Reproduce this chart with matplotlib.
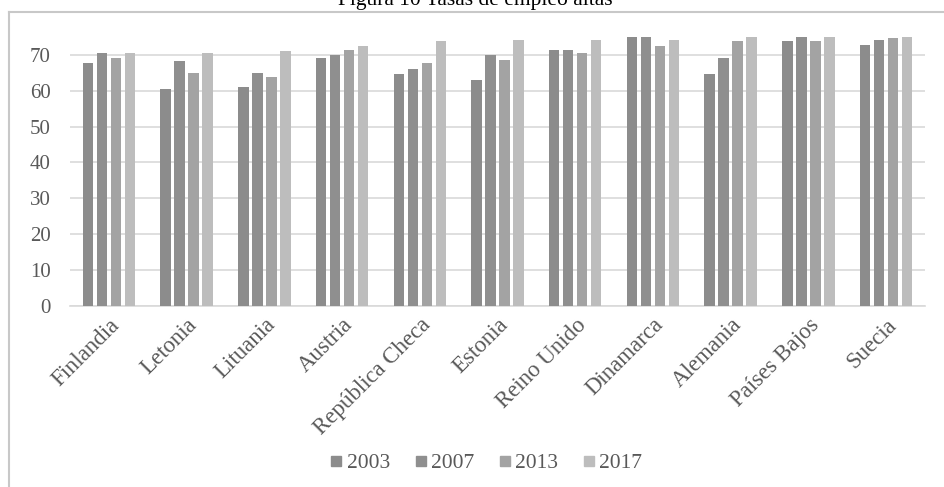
import numpy as np
import matplotlib
matplotlib.use('Agg')
import matplotlib.pyplot as plt
from matplotlib.lines import Line2D

plt.rcParams['font.family'] = ['Liberation Serif', 'DejaVu Serif']

paises = ['Finlandia', 'Letonia', 'Lituania', 'Austria', 'República Checa',
          'Estonia', 'Reino Unido', 'Dinamarca', 'Alemania', 'Países Bajos', 'Suecia']
anios = ['2003', '2007', '2013', '2017']

tasa_2003 = [67.7, 60.5, 61.0, 69.1, 64.7, 62.9, 71.4, 74.9, 64.7, 73.7, 72.8]
tasa_2007 = [70.5, 68.2, 64.9, 70.0, 66.1, 70.0, 71.4, 74.9, 69.1, 74.9, 74.2]
tasa_2013 = [69.1, 64.9, 63.8, 71.4, 67.6, 68.5, 70.5, 72.3, 73.7, 73.7, 74.7]
tasa_2017 = [70.4, 70.4, 70.9, 72.3, 73.7, 74.2, 74.2, 74.2, 74.9, 74.9, 74.9]
series = [tasa_2003, tasa_2007, tasa_2013, tasa_2017]

colores = ['#8c8c8c', '#8f8f8f', '#a3a3a3', '#bdbdbd']
texto_gris = '#595959'

fig = plt.figure(figsize=(9.44, 4.87), dpi=100)
ax = fig.add_axes([70 / 944, 181 / 487, 855 / 944, 280 / 487])

x = np.arange(len(paises))
paso = 0.18
for k, (valores, color) in enumerate(zip(series, colores)):
    ax.bar(x + (k - 1.5) * paso, valores, width=0.135, color=color,
           label=anios[k], zorder=3)

ax.set_xlim(-0.5, len(paises) - 0.5)
ax.set_ylim(0, 78)
ax.set_yticks(range(0, 71, 10))
ax.yaxis.grid(True, color='#d9d9d9', linewidth=1.2, zorder=0)
ax.set_axisbelow(True)
for lado in ['top', 'right', 'left']:
    ax.spines[lado].set_visible(False)
ax.spines['bottom'].set_color('#d9d9d9')
ax.spines['bottom'].set_linewidth(1.2)
ax.tick_params(axis='both', length=0, colors=texto_gris)
ax.tick_params(axis='y', pad=14, labelsize=15)
ax.set_xticks(x)
ax.set_xticklabels(paises, rotation=45, ha='right', rotation_mode='anchor')
ax.tick_params(axis='x', pad=6, labelsize=16.5)

# leyenda con marcadores cuadrados
marcas = [Line2D([], [], marker='s', linestyle='none', color=c, markersize=7)
          for c in colores]
fig.legend(marcas, anios, loc='center', bbox_to_anchor=(484 / 944, 1 - 463 / 487),
           ncol=4, frameon=False, fontsize=15.5, handletextpad=0.0,
           handlelength=1.0, columnspacing=0.9, labelcolor=texto_gris)

# marco del gráfico
fig.add_artist(Line2D([9 / 944, 1], [1 - 12 / 487, 1 - 12 / 487],
                      transform=fig.transFigure, color='#c8c8c8', linewidth=1.5))
fig.add_artist(Line2D([9 / 944, 9 / 944], [0, 1 - 12 / 487],
                      transform=fig.transFigure, color='#c8c8c8', linewidth=1.5))

fig.text(475 / 944, 1 - 5 / 487, 'Figura 10 Tasas de empleo altas',
         ha='center', va='baseline', fontsize=15.5, color='black')

fig.savefig('out.png', dpi=100)
